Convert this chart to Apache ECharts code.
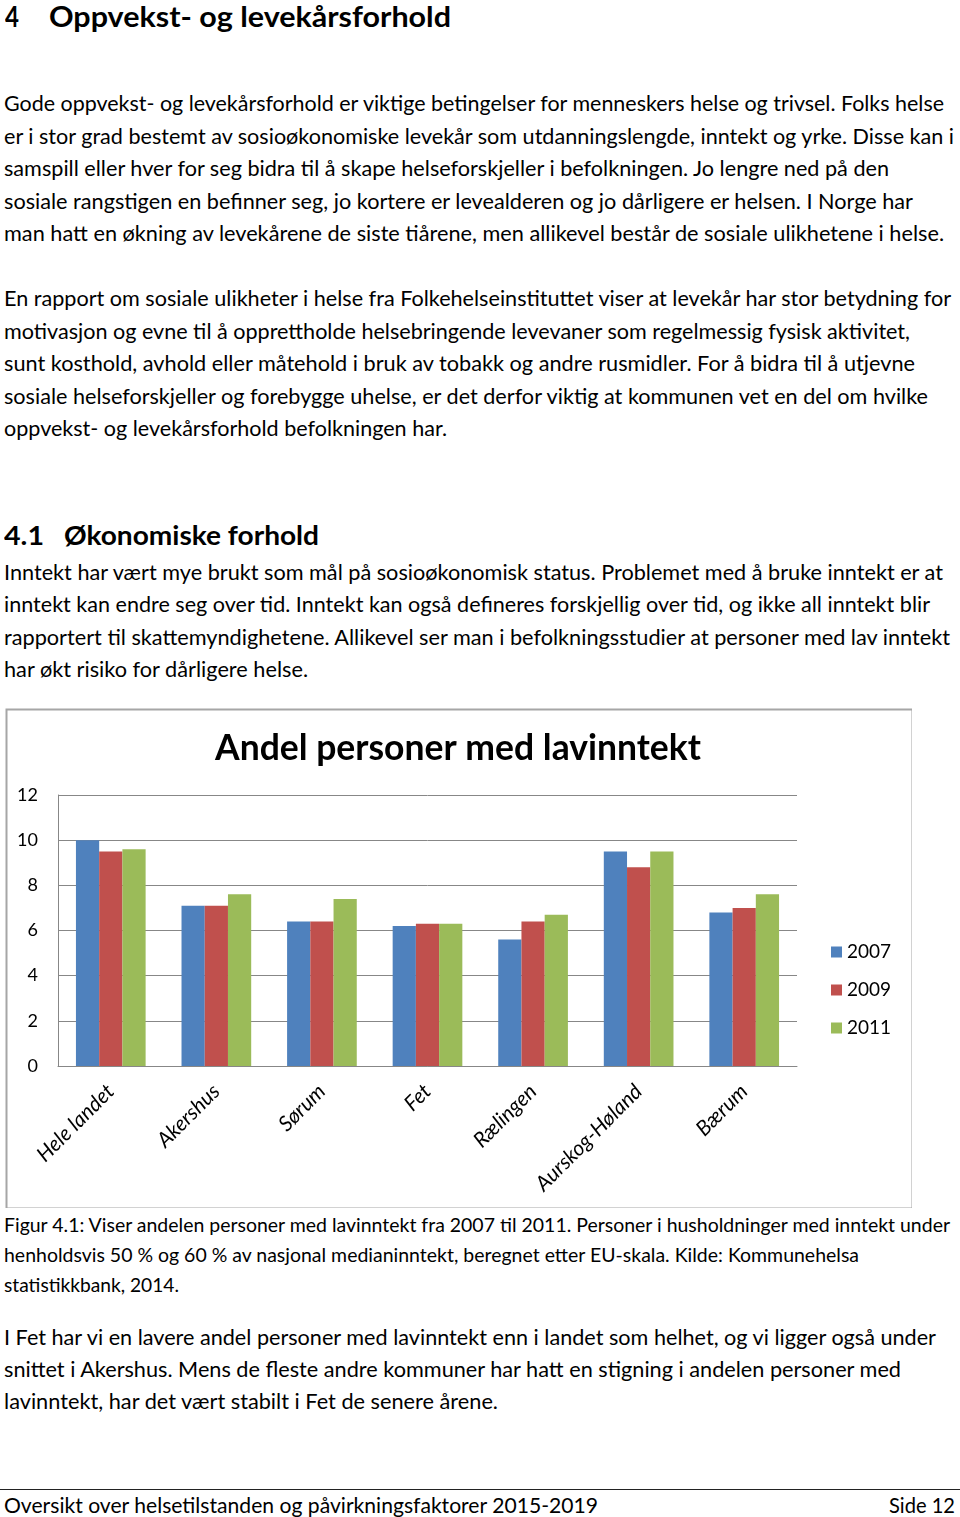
<!DOCTYPE html>
<html>
<head>
<meta charset="utf-8">
<script src="https://cdn.jsdelivr.net/npm/echarts@6/dist/echarts.min.js"></script>
<style>
html,body{margin:0;padding:0;background:#fff;}
body{width:960px;height:1517px;position:relative;overflow:hidden;font-family:'Lato','Noto Sans',sans-serif;color:#000;}
.ln{position:absolute;white-space:nowrap;transform-origin:0 50%;}
#chart{position:absolute;left:4px;top:707px;width:908px;height:501px;}
#rule{position:absolute;left:0;top:1489px;width:960px;height:1px;background:#222;}
</style>
</head>
<body>
<div id="chart"></div>
<div id="rule"></div>
<script>
// ---- chart data ----
const categories = ['Hele landet','Akershus','Sørum','Fet','Rælingen','Aurskog-Høland','Bærum'];
const years = ['2007','2009','2011'];
const s2007 = [10.0, 7.1, 6.4, 6.2, 5.6, 9.5, 6.8];
const s2009 = [9.5, 7.1, 6.4, 6.3, 6.4, 8.8, 7.0];
const s2011 = [9.6, 7.6, 7.4, 6.3, 6.7, 9.5, 7.6];
const chartTitle = 'Andel personer med lavinntekt';

// ---- page text (text, x, centre y, size, weight, target width) ----
const pageLines = [
  ['4', 5, 16, 28, 'bold', 14],
  ['Oppvekst- og levekårsforhold', 49, 16, 28, 'bold', 402],
  ['Gode oppvekst- og levekårsforhold er viktige betingelser for menneskers helse og trivsel. Folks helse', 4, 102, 21, 'normal', 940],
  ['er i stor grad bestemt av sosioøkonomiske levekår som utdanningslengde, inntekt og yrke. Disse kan i', 4, 135, 21, 'normal', 950],
  ['samspill eller hver for seg bidra til å skape helseforskjeller i befolkningen. Jo lengre ned på den', 4, 167, 21, 'normal', 885],
  ['sosiale rangstigen en befinner seg, jo kortere er levealderen og jo dårligere er helsen. I Norge har', 4, 200, 21, 'normal', 909],
  ['man hatt en økning av levekårene de siste tiårene, men allikevel består de sosiale ulikhetene i helse.', 4, 232, 21, 'normal', 940],
  ['En rapport om sosiale ulikheter i helse fra Folkehelseinstituttet viser at levekår har stor betydning for', 4, 297, 21, 'normal', 947],
  ['motivasjon og evne til å opprettholde helsebringende levevaner som regelmessig fysisk aktivitet,', 4, 330, 21, 'normal', 906],
  ['sunt kosthold, avhold eller måtehold i bruk av tobakk og andre rusmidler. For å bidra til å utjevne', 4, 362, 21, 'normal', 911],
  ['sosiale helseforskjeller og forebygge uhelse, er det derfor viktig at kommunen vet en del om hvilke', 4, 395, 21, 'normal', 924],
  ['oppvekst- og levekårsforhold befolkningen har.', 4, 427, 21, 'normal', 443],
  ['4.1', 4, 535, 27, 'bold', 40],
  ['Økonomiske forhold', 64, 535, 27, 'bold', 255],
  ['Inntekt har vært mye brukt som mål på sosioøkonomisk status. Problemet med å bruke inntekt er at', 4, 571, 21, 'normal', 939],
  ['inntekt kan endre seg over tid. Inntekt kan også defineres forskjellig over tid, og ikke all inntekt blir', 4, 603, 21, 'normal', 926],
  ['rapportert til skattemyndighetene. Allikevel ser man i befolkningsstudier at personer med lav inntekt', 4, 636, 21, 'normal', 946],
  ['har økt risiko for dårligere helse.', 4, 668, 21, 'normal', 304],
  ['Figur 4.1: Viser andelen personer med lavinntekt fra 2007 til 2011. Personer i husholdninger med inntekt under', 4, 1224, 19, 'normal', 946],
  ['henholdsvis 50 % og 60 % av nasjonal medianinntekt, beregnet etter EU-skala. Kilde: Kommunehelsa', 4, 1254, 19, 'normal', 855],
  ['statistikkbank, 2014.', 4, 1284, 19, 'normal', 175],
  ['I Fet har vi en lavere andel personer med lavinntekt enn i landet som helhet, og vi ligger også under', 4, 1336, 21, 'normal', 932],
  ['snittet i Akershus. Mens de fleste andre kommuner har hatt en stigning i andelen personer med', 4, 1368, 21, 'normal', 897],
  ['lavinntekt, har det vært stabilt i Fet de senere årene.', 4, 1400, 21, 'normal', 494],
  ['Oversikt over helsetilstanden og påvirkningsfaktorer 2015-2019', 4, 1504, 22, 'normal', 594],
  ['Side 12', 889, 1504, 22, 'normal', 66]
];

pageLines.forEach(function(l){
  const d = document.createElement('div');
  d.className = 'ln';
  d.textContent = l[0];
  const lh = Math.round(l[3] * 1.4);
  d.style.left = l[1] + 'px';
  d.style.top = (l[2] - lh / 2) + 'px';
  d.style.fontSize = l[3] + 'px';
  d.style.lineHeight = lh + 'px';
  d.style.fontWeight = l[4];
  document.body.appendChild(d);
  const w = d.getBoundingClientRect().width;
  if (w > 0) d.style.transform = 'scaleX(' + (l[5] / w) + ')';
});

// ---- chart ----
const colors = ['#4F81BD', '#C0504D', '#9BBB59'];
const chart = echarts.init(document.getElementById('chart'), null, {renderer: 'canvas'});
const font = "'Lato','Noto Sans',sans-serif";
const seriesData = [s2007, s2009, s2011];
chart.setOption({
  animation: false,
  textStyle: {fontFamily: font, color: '#000'},
  title: {
    text: chartTitle, left: 'center', top: 19,
    textStyle: {fontFamily: font, fontSize: 35.5, fontWeight: 'bold', color: '#000'}
  },
  graphic: [{
    type: 'rect', left: 0, top: 0,
    shape: {x: 1, y: 1, width: 906, height: 499},
    style: {fill: 'none', stroke: '#a6a6a6', lineWidth: 2}
  }],
  legend: {
    orient: 'vertical', left: 822, top: 229,
    itemWidth: 11, itemHeight: 11, itemGap: 16, icon: 'rect',
    textStyle: {fontFamily: font, fontSize: 19, color: '#000', lineHeight: 22},
    data: years
  },
  grid: {left: 54, top: 88, width: 739, height: 271, containLabel: false},
  xAxis: {
    type: 'category', data: categories,
    axisLine: {lineStyle: {color: '#878787', width: 1}},
    axisTick: {show: false},
    axisLabel: {rotate: 45, fontStyle: 'italic', fontSize: 21, color: '#000', margin: 22, fontFamily: font, interval: 0}
  },
  yAxis: {
    type: 'value', min: 0, max: 12, interval: 2,
    axisLine: {show: true, lineStyle: {color: '#878787', width: 1}},
    axisTick: {show: false},
    splitLine: {lineStyle: {color: '#878787', width: 1}},
    axisLabel: {fontSize: 18, color: '#000', margin: 20, fontFamily: font}
  },
  series: years.map(function(y, i){
    return {
      name: y, type: 'bar', data: seriesData[i],
      barGap: '0%', barCategoryGap: '34%',
      itemStyle: {color: colors[i]}
    };
  })
});
</script>
</body>
</html>
